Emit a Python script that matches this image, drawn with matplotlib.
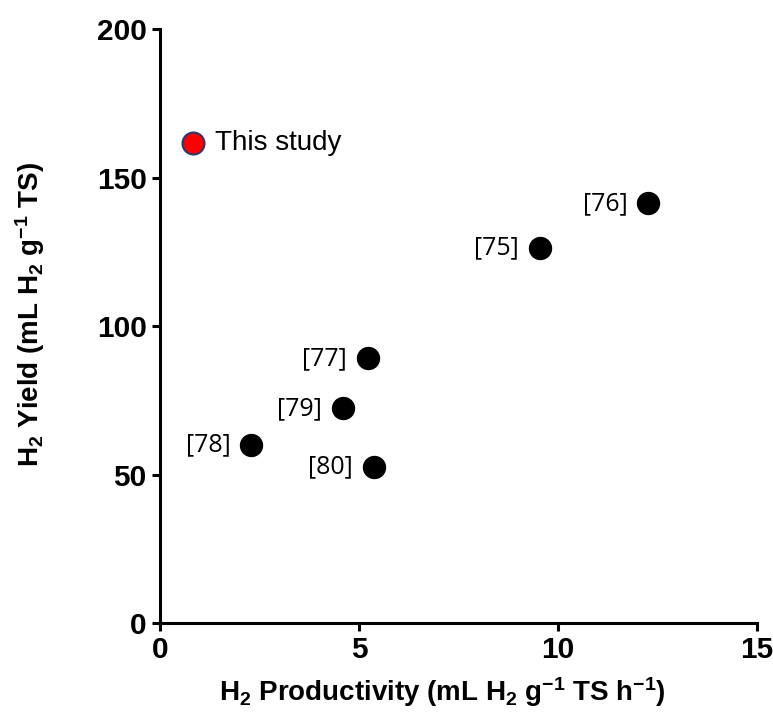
import matplotlib
matplotlib.use('Agg')
import matplotlib.pyplot as plt

# literature values (productivity, yield)
ref_labels = ['[75]', '[76]', '[77]', '[78]', '[79]', '[80]']
ref_prod = [9.55, 12.27, 5.23, 2.29, 4.59, 5.38]
ref_yield = [126.3, 141.4, 89.2, 60.0, 72.4, 52.7]

study_prod = [0.83]
study_yield = [161.8]

BOLD = ['Liberation Sans', 'DejaVu Sans']
plt.rcParams['mathtext.fontset'] = 'custom'
plt.rcParams['mathtext.rm'] = 'Liberation Sans:bold'
plt.rcParams['mathtext.it'] = 'Liberation Sans:bold'
plt.rcParams['mathtext.default'] = 'rm'

fig = plt.figure(figsize=(7.73, 7.18), dpi=100)
ax = fig.add_axes([0.207, 0.132, 0.772, 0.827])

ax.scatter(ref_prod, ref_yield, s=250, color='black', zorder=3)
ax.scatter(study_prod, study_yield, s=250, color='#ff0000', edgecolor='#2b3a6b',
           linewidth=1.5, zorder=3)

for lab, x, y in zip(ref_labels, ref_prod, ref_yield):
    ax.annotate(lab, (x, y), xytext=(-15, 0), textcoords='offset points',
                ha='right', va='center', fontsize=18, family='Open Sans')
ax.annotate('This study', (study_prod[0], study_yield[0]), xytext=(16, 0),
            textcoords='offset points', ha='left', va='center', fontsize=20,
            family='Liberation Sans')

ax.set_xlim(0, 15)
ax.set_ylim(0, 200)
ax.set_xticks([0, 5, 10, 15])
ax.set_yticks([0, 50, 100, 150, 200])

for s in ['top', 'right']:
    ax.spines[s].set_visible(False)
for s in ['left', 'bottom']:
    ax.spines[s].set_linewidth(2.2)
ax.tick_params(width=2.2, length=6)
for t in ax.get_xticklabels() + ax.get_yticklabels():
    t.set_family(BOLD)
    t.set_fontweight('bold')
    t.set_fontsize(21.5)

ax.set_xlabel(r'H$_2$ Productivity (mL H$_2$ g$^{-1}$ TS h$^{-1}$)',
              fontsize=20, fontweight='bold', family=BOLD)
ax.set_ylabel(r'H$_2$ Yield (mL H$_2$ g$^{-1}$ TS)',
              fontsize=20, fontweight='bold', family=BOLD)
ax.xaxis.set_label_coords(0.474, -0.088)
ax.yaxis.set_label_coords(-0.189, 0.52)

fig.savefig('out.png', dpi=100)
